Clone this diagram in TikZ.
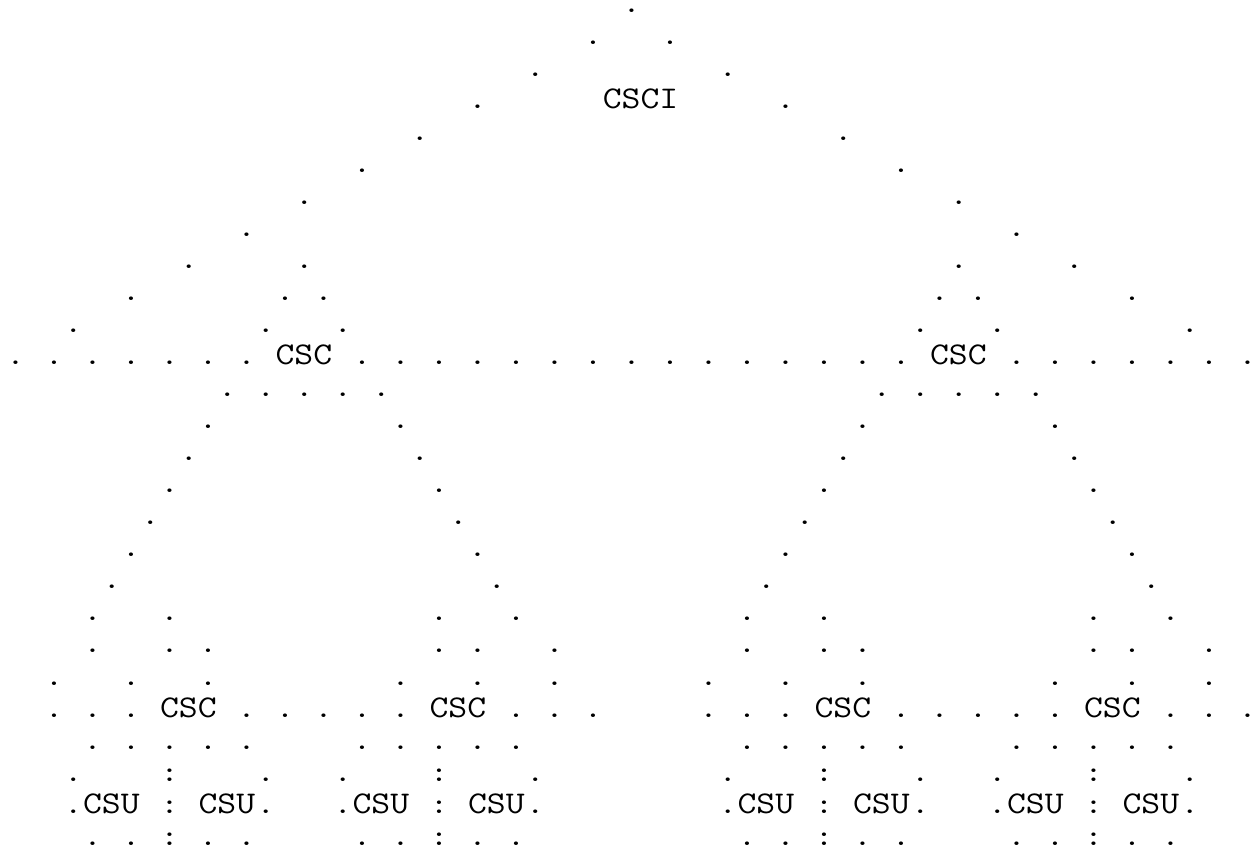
\documentclass[tikz,border=0pt]{standalone}
\usepackage{fontspec}
\usepackage{graphicx}
\newcommand\mf{\ttfamily\fontsize{31.6pt}{32pt}\selectfont}
\newcommand\tk[1]{\scalebox{1.1604}[1]{#1}}
\newcommand\cln{\rlap{.}\raisebox{8.5pt}{.}}
\newcommand\place[4]{\node[tok] (#1) at ({6pt+19.25pt*#3},{842pt-32pt*#2}) {\tk{#4}};}
\newcommand\dotrow[2]{\foreach \c in {#2} {\place{d#1-\c}{#1}{\c}{.}}}
\newcommand\colrow[2]{\foreach \c in {#2} {\place{k#1-\c}{#1}{\c}{\cln}}}
\begin{document}
\begin{tikzpicture}[tok/.style={inner sep=0pt, outer sep=0pt, anchor=base west, font=\mf}]
\useasboundingbox[fill=white] (0,0) rectangle (1259pt,855pt);
% labels
\place{csci}{3}{31}{CSCI}
\place{cscL}{11}{14}{CSC}
\place{cscR}{11}{48}{CSC}
\place{csc1}{22}{8}{CSC}
\place{csc2}{22}{22}{CSC}
\place{csc3}{22}{42}{CSC}
\place{csc4}{22}{56}{CSC}
\place{csu1}{25}{4}{CSU}
\place{csu2}{25}{10}{CSU}
\place{csu3}{25}{18}{CSU}
\place{csu4}{25}{24}{CSU}
\place{csu5}{25}{38}{CSU}
\place{csu6}{25}{44}{CSU}
\place{csu7}{25}{52}{CSU}
\place{csu8}{25}{58}{CSU}
% dotted connectors
\dotrow{0}{32}
\dotrow{1}{30,34}
\dotrow{2}{27,37}
\dotrow{3}{24,40}
\dotrow{4}{21,43}
\dotrow{5}{18,46}
\dotrow{6}{15,49}
\dotrow{7}{12,52}
\dotrow{8}{9,15,49,55}
\dotrow{9}{6,14,16,48,50,58}
\dotrow{10}{3,13,17,47,51,61}
\dotrow{11}{0,2,4,6,8,10,12}
\dotrow{11}{18,20,22,24,26,28,30,32,34,36,38,40,42,44,46}
\dotrow{11}{52,54,56,58,60,62,64}
\dotrow{12}{11,13,15,17,19,45,47,49,51,53}
\dotrow{13}{10,20,44,54}
\dotrow{14}{9,21,43,55}
\dotrow{15}{8,22,42,56}
\dotrow{16}{7,23,41,57}
\dotrow{17}{6,24,40,58}
\dotrow{18}{5,25,39,59}
\dotrow{19}{4,8,22,26,38,42,56,60}
\dotrow{20}{4,8,10,22,24,28,38,42,44,56,58,62}
\dotrow{21}{2,6,10,20,24,28,36,40,44,54,58,62}
\dotrow{22}{2,4,6,12,14,16,18,20,26,28,30,36,38,40,46,48,50,52,54,60,62,64}
\dotrow{23}{4,6,8,10,12,18,20,22,24,26,38,40,42,44,46,52,54,56,58,60}
\dotrow{24}{3,13,17,27,37,47,51,61}
\colrow{24}{8,22,42,56}
\dotrow{25}{3,13,17,27,37,47,51,61}
\colrow{25}{8,22,42,56}
\dotrow{26}{4,6,10,12,18,20,24,26,38,40,44,46,52,54,58,60}
\colrow{26}{8,22,42,56}
\end{tikzpicture}
\end{document}
